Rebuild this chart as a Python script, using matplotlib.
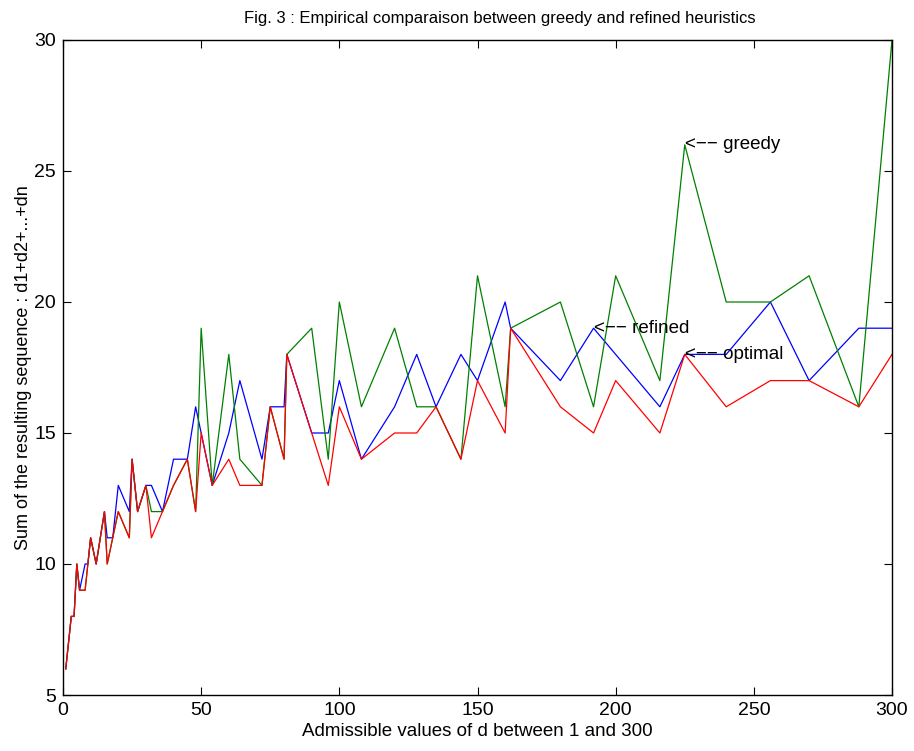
import matplotlib
matplotlib.use("Agg")
import matplotlib.pyplot as plt

plt.rcParams['font.family'] = ['Liberation Sans', 'DejaVu Sans']

d_values = [1, 2, 3, 4, 5, 6, 8, 9, 10, 12, 15, 16, 18, 20, 24, 25, 27, 30, 32, 36,
            40, 45, 48, 50, 54, 60, 64, 72, 75, 80, 81, 90, 96, 100, 108, 120, 128,
            135, 144, 150, 160, 162, 180, 192, 200, 216, 225, 240, 256, 270, 288, 300]

refined = [6, 7, 8, 8, 10, 9, 10, 10, 11, 10, 12, 11, 11, 13, 12, 14, 12, 13, 13, 12,
           14, 14, 16, 15, 13, 15, 17, 14, 16, 16, 18, 15, 15, 17, 14, 16, 18,
           16, 18, 17, 20, 19, 17, 19, 18, 16, 18, 18, 20, 17, 19, 19]

greedy = [6, 7, 8, 8, 10, 9, 9, 10, 11, 10, 12, 10, 11, 12, 11, 14, 12, 13, 12, 12,
          13, 14, 12, 19, 13, 18, 14, 13, 16, 14, 18, 19, 14, 20, 16, 19, 16,
          16, 14, 21, 16, 19, 20, 16, 21, 17, 26, 20, 20, 21, 16, 30]

optimal = [6, 7, 8, 8, 10, 9, 9, 10, 11, 10, 12, 10, 11, 12, 11, 14, 12, 13, 11, 12,
           13, 14, 12, 15, 13, 14, 13, 13, 16, 14, 18, 15, 13, 16, 14, 15, 15,
           16, 14, 17, 15, 19, 16, 15, 17, 15, 18, 16, 17, 17, 16, 18]

annotations = [("<\u2212\u2212 greedy", 225, 26), ("<\u2212\u2212 refined", 192, 19),
               ("<\u2212\u2212 optimal", 225, 18)]

W, H = 914, 751
fig = plt.figure(figsize=(W / 100, H / 100), dpi=100)
ax = fig.add_axes([63 / W, 56 / H, (892 - 63) / W, (695 - 40) / H])

ax.plot(d_values, refined, color=(0, 0, 1), lw=0.9)
ax.plot(d_values, greedy, color=(0, 0.5, 0), lw=0.9)
ax.plot(d_values, optimal, color=(1, 0, 0), lw=0.9)

for txt, x, y in annotations:
    ax.text(x, y, txt, fontsize=13.5, ha='left', va='center')

ax.set_xlim(0, 300)
ax.set_ylim(5, 30)
ax.set_xticks([0, 50, 100, 150, 200, 250, 300])
ax.set_yticks([5, 10, 15, 20, 25, 30])
ax.tick_params(direction='in', length=6, width=0.8, top=True, right=True,
               labelsize=14, pad=5)
for s in ax.spines.values():
    s.set_linewidth(1.0)

fig.text(500 / W, 1 - 18 / H,
         "Fig. 3 : Empirical comparaison between greedy and refined heuristics",
         fontsize=12, ha='center', va='center')
ax.set_xlabel("Admissible values of d between 1 and 300", fontsize=13.5, labelpad=3)
ax.set_ylabel("Sum of the resulting sequence : d1+d2+...+dn", fontsize=13, labelpad=2)

fig.savefig("out.png", dpi=100)
